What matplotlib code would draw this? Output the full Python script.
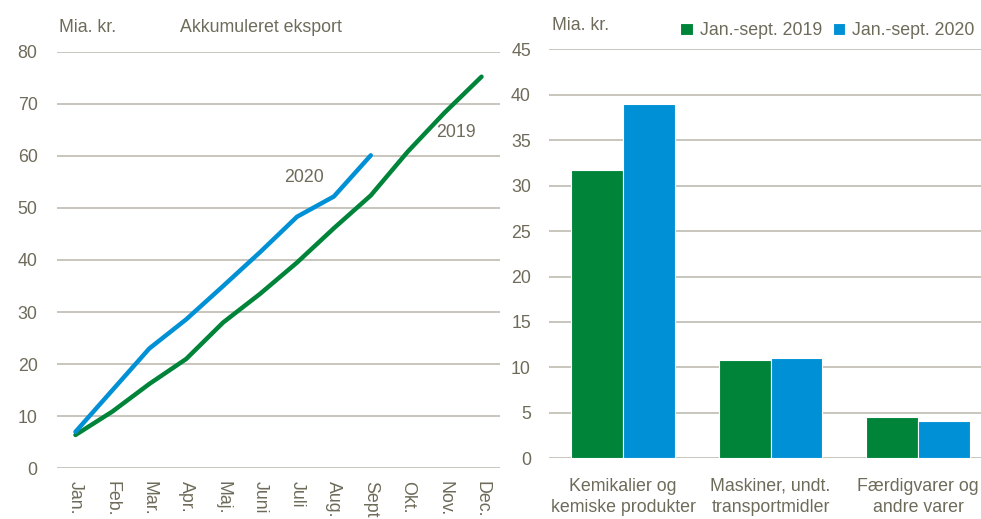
import matplotlib.pyplot as plt
import numpy as np

months = ['Jan.', 'Feb.', 'Mar.', 'Apr.', 'Maj.', 'Juni', 'Juli', 'Aug.', 'Sept', 'Okt.', 'Nov.', 'Dec.']
acc_2019 = [6.4, 10.9, 16.2, 21.0, 28.0, 33.5, 39.5, 46.1, 52.4, 60.8, 68.3, 75.2]
acc_2020 = [7.0, 15.0, 23.0, 28.6, 35.0, 41.5, 48.3, 52.2, 60.1]

groups = ['Kemikalier og\nkemiske produkter', 'Maskiner, undt.\ntransportmidler', 'Færdigvarer og\nandre varer']
jan_sep_2019 = [31.7, 10.85, 4.5]
jan_sep_2020 = [39.0, 11.0, 4.15]

green = '#00843a'
blue = '#0090d5'
txt = '#6e6b5a'
grid = '#bdbbb0'

plt.rcParams['font.family'] = ['Liberation Sans', 'DejaVu Sans']
fs = 12.8

W, H = 981, 519
fig = plt.figure(figsize=(W / 100, H / 100), dpi=100)

def box(x0, x1, ytop, ybot):
    return [x0 / W, 1 - ybot / H, (x1 - x0) / W, (ybot - ytop) / H]

# left: accumulated exports
ax1 = fig.add_axes(box(57, 500, 51.7, 468.3))
x = np.arange(len(months))
ax1.plot(x, acc_2019, color=green, lw=3.2, solid_capstyle='round', solid_joinstyle='round')
ax1.plot(x[:len(acc_2020)], acc_2020, color=blue, lw=3.2, solid_capstyle='round', solid_joinstyle='round')
ax1.set_xlim(-0.5, 11.5)
ax1.set_ylim(0, 80)
ax1.set_yticks(range(0, 81, 10))
ax1.set_xticks(x)
ax1.set_xticklabels(months, rotation=270, va='top', ha='center')
ax1.yaxis.grid(True, color=grid, lw=1.2)
ax1.set_axisbelow(True)
for s in ax1.spines.values():
    s.set_visible(False)
ax1.tick_params(length=0, colors=txt, labelsize=fs)
ax1.tick_params(axis='y', pad=14)
ax1.tick_params(axis='x', pad=9)
ax1.text(6.2, 55.9, '2020', color=txt, fontsize=fs, ha='center', va='center')
ax1.text(10.3, 64.4, '2019', color=txt, fontsize=fs, ha='center', va='center')
fig.text(59 / W, 1 - 28 / H, 'Mia. kr.', color=txt, fontsize=fs, va='center', ha='left')
fig.text(261 / W, 1 - 27 / H, 'Akkumuleret eksport', color=txt, fontsize=fs, va='center', ha='center')

# right: groups of goods
ax2 = fig.add_axes(box(549, 981, 49.3, 458.3))
xg = np.arange(len(groups))
bw = 0.352
ax2.bar(xg - bw / 2, jan_sep_2019, bw, color=green, edgecolor='white', lw=0.8, label='Jan.-sept. 2019')
ax2.bar(xg + bw / 2, jan_sep_2020, bw, color=blue, edgecolor='white', lw=0.8, label='Jan.-sept. 2020')
ax2.set_xlim(-0.502, 2.427)
ax2.set_ylim(0, 45)
ax2.set_yticks(range(0, 46, 5))
ax2.set_xticks(xg)
ax2.set_xticklabels(groups, linespacing=1.35)
ax2.yaxis.grid(True, color=grid, lw=1.2)
ax2.set_axisbelow(True)
for s in ax2.spines.values():
    s.set_visible(False)
ax2.tick_params(length=0, colors=txt, labelsize=fs)
ax2.tick_params(axis='y', pad=13)
ax2.tick_params(axis='x', pad=14)
fig.text(552 / W, 1 - 25 / H, 'Mia. kr.', color=txt, fontsize=fs, va='center', ha='left')
leg = ax2.legend(loc='lower right', bbox_to_anchor=(0.998, 1.012), ncol=2, frameon=False,
                 handlelength=0.7, handleheight=0.7, handletextpad=0.4, columnspacing=0.6,
                 borderaxespad=0.2, borderpad=0.1, fontsize=fs)
for t in leg.get_texts():
    t.set_color(txt)

fig.savefig('out.png', dpi=100)
